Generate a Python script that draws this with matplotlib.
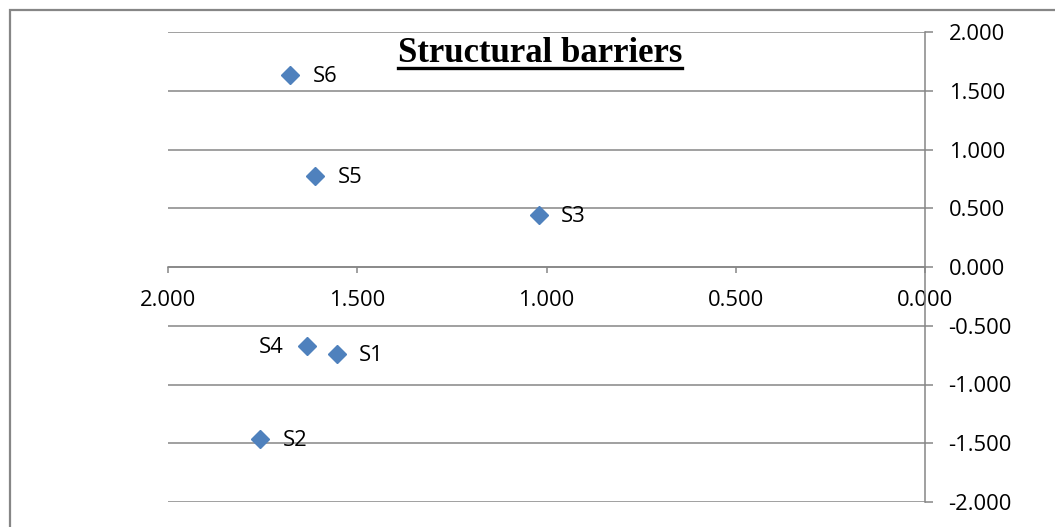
import numpy as np
import matplotlib.pyplot as plt
from matplotlib.patches import Rectangle
from matplotlib.lines import Line2D

# point labels and coordinates
labels = ["S1", "S2", "S3", "S4", "S5", "S6"]
x_vals = [1.554, 1.756, 1.020, 1.633, 1.611, 1.677]
y_vals = [-0.744, -1.468, 0.443, -0.673, 0.775, 1.635]
x_ticks = [2.0, 1.5, 1.0, 0.5, 0.0]
y_ticks = [-2.0, -1.5, -1.0, -0.5, 0.0, 0.5, 1.0, 1.5, 2.0]
title = "Structural barriers"

W, H = 1055, 527
grey = "#868686"
blue = "#4F81BD"
label_font = "Open Sans"
fs = 15.8

fig = plt.figure(figsize=(W / 100, H / 100), dpi=100)

# outer chart frame (only top and left are visible in the crop)
fig.patches.append(Rectangle((10 / W, -0.1), 1.2, 1.1 - 10 / H,
                             transform=fig.transFigure, fill=False,
                             edgecolor=grey, linewidth=1.6))

ax = fig.add_axes([168 / W, 25 / H, (925 - 168) / W, (502 - 32) / H])
ax.set_xlim(2.0, 0.0)
ax.set_ylim(-2.0, 2.0)

# horizontal gridlines
for yv in y_ticks:
    ax.axhline(yv, color=grey, linewidth=1.1, zorder=1)

ax.spines["top"].set_visible(False)
ax.spines["left"].set_visible(False)
ax.spines["bottom"].set_position(("data", 0))
ax.spines["bottom"].set_color(grey)
ax.spines["right"].set_color(grey)
ax.spines["bottom"].set_linewidth(1.1)
ax.spines["right"].set_linewidth(1.1)

ax.set_xticks(x_ticks)
ax.set_xticklabels([f"{v:.3f}" for v in x_ticks])
ax.set_yticks(y_ticks)
ax.set_yticklabels([f"{v:.3f}" for v in y_ticks])
ax.yaxis.tick_right()
ax.tick_params(axis="y", direction="out", length=6, width=1.1, color=grey,
               pad=11, labelsize=fs, labelcolor="black")
ax.tick_params(axis="x", direction="out", length=4.5, width=1.1, color=grey,
               pad=12, labelsize=fs, labelcolor="black")
for t in ax.get_xticklabels() + ax.get_yticklabels():
    t.set_fontfamily(label_font)

ax.plot(x_vals, y_vals, linestyle="none", marker="D", markersize=9.2,
        color=blue, zorder=3, clip_on=False)

for lab, xv, yv in zip(labels, x_vals, y_vals):
    if lab == "S4":
        ax.annotate(lab, (xv, yv), xytext=(-17, -1), textcoords="offset points",
                    ha="right", va="center", fontsize=fs, family=label_font)
    else:
        ax.annotate(lab, (xv, yv), xytext=(16, -1), textcoords="offset points",
                    ha="left", va="center", fontsize=fs, family=label_font)

# title with underline
tt = fig.text(540 / W, 1 - 62 / H, title, ha="center", va="baseline",
              fontsize=25, fontweight="bold", family="Liberation Serif")
fig.canvas.draw()
bb = tt.get_window_extent()
uy = 1 - 68 / H
fig.lines.append(Line2D([bb.x0 / W, bb.x1 / W], [uy, uy],
                        transform=fig.transFigure, color="black", linewidth=2.4))

fig.savefig("out.png", dpi=100)
